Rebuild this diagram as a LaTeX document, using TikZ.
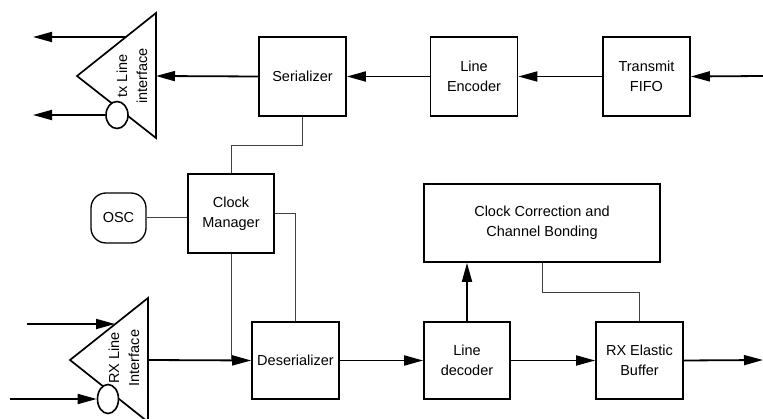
\documentclass[tikz,border=0pt]{standalone}
\usepackage{fontspec}
\setmainfont{Liberation Sans}
\usepackage{tikz}
\usetikzlibrary{arrows.meta,positioning,shapes.geometric,calc}

\begin{document}
\begin{tikzpicture}[x=1pt,y=-1pt,
  every node/.style={align=center,font=\fontsize{14.5}{20}\selectfont},
  block/.style={draw,line width=1.7pt,minimum width=87pt,minimum height=79pt,inner sep=0pt},
  wideblock/.style={block,minimum width=236pt,minimum height=78pt},
  oscbox/.style={draw,line width=1.3pt,rounded corners=15pt,minimum width=55pt,minimum height=50pt,inner sep=0pt},
  amp/.style={draw,line width=1.7pt,line join=miter},
  port/.style={draw,ellipse,line width=1.6pt,fill=white,inner sep=0pt},
  to/.style={-{Triangle[length=19pt,width=10pt]},line width=1.8pt},
  wire/.style={draw=black!75,line width=1pt}]

    \useasboundingbox (0,0) rectangle (763,419);
    \clip (0,0) rectangle (763,419);

    \node[block](ser) at (302.5,76.5) {Serializer};
    \node[block](enc) at (474,76.5) {Line\\Encoder};
    \node[block](fifo) at (646.5,76.5) {Transmit\\FIFO};

    \node[block,minimum width=86pt](cm) at (231,213.5) {Clock\\Manager};
    \node[oscbox](osc) at (118.5,218) {OSC};

    \node[wideblock](cccb) at (542,223) {Clock Correction and\\Channel Bonding};

    \node[block,minimum height=77pt](deser) at (295.5,360.5) {Deserializer};
    \node[block,minimum height=77pt,minimum width=86pt](dec) at (467,360.5) {Line\\decoder};
    \node[block,minimum height=77pt](buf) at (639.5,360.5) {RX Elastic\\Buffer};

    \coordinate (txapex) at (77,76);
    \coordinate (txtop) at (156,13);
    \coordinate (txbot) at (156,138);
    \coordinate (txin) at (156,76);
    \coordinate (txout) at (126,37);
    \draw[amp] (txapex) -- (txtop) -- (txbot) -- cycle;
    \node[port,minimum width=22pt,minimum height=27pt](txosc) at (117,115) {};
    \node[rotate=90](txlabel) at (132,76) {tx Line\\interface};

    \coordinate (rxapex) at (70,360);
    \coordinate (rxtop) at (148,298);
    \coordinate (rxbot) at (148,422);
    \coordinate (rxout) at (148,360);
    \coordinate (rxin) at (115,324);
    \draw[amp] (rxapex) -- (rxtop) -- (rxbot) -- cycle;
    \node[port,minimum width=21pt,minimum height=29pt](rxosc) at (108,399) {};
    \node[rotate=90](rxlabel) at (124,358) {RX Line\\Interface};

    \coordinate (txsrc) at (763,76);
    \coordinate (txend1) at (33,37);
    \coordinate (txend2) at (33,115);
    \coordinate (rxsrc1) at (27,324);
    \coordinate (rxsrc2) at (10,399);
    \coordinate (rxsink) at (763,360);

    \draw[to](txsrc) -- (fifo.east);
    \draw[to](fifo) -- (enc);
    \draw[to](enc) -- (ser);
    \draw[to](ser.west) -- (txin);
    \draw[to](txout) -- (txend1);
    \draw[to](txosc.west) -- (txend2);

    \draw[to](rxsrc1) -- (rxin);
    \draw[to](rxsrc2) -- (rxosc.west);
    \draw[to](rxout) -- (deser.west);
    \draw[to](deser) -- (dec);
    \draw[to](dec) -- (buf);
    \draw[to](buf.east) -- (rxsink);
    \draw[to](dec.north) -- (dec.north |- cccb.south);

    \draw[wire](ser.south) -- ++(0,29) -| (cm.north);
    \draw[wire](osc.east) -- (osc.east -| cm.west);
    \draw[wire](cm.east) -| (deser.north);
    \draw[wire](cm.south) -- (cm.south |- deser.west);
    \draw[wire](cccb.south) -- ++(0,30) -| (buf.north);
\end{tikzpicture}
\end{document}
